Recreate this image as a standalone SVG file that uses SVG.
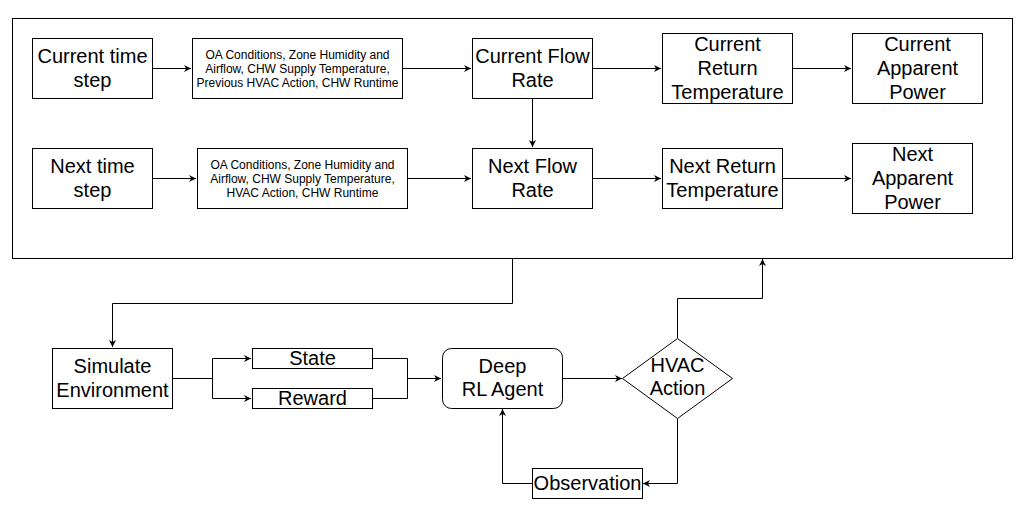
<svg xmlns="http://www.w3.org/2000/svg" width="1030" height="512" viewBox="0 0 1030 512">
<style>
.b{fill:#fff;stroke:#000;stroke-width:1}
.t{font-family:"Liberation Sans",Arial,sans-serif;font-size:20px;fill:#000;text-anchor:middle}
.s{font-family:"Liberation Sans",Arial,sans-serif;font-size:12px;fill:#000;text-anchor:middle}
.c{fill:none;stroke:#000;stroke-width:1}
</style>
<defs>
<marker id="a" viewBox="0 0 10 10" refX="10" refY="5" markerWidth="7" markerHeight="7" markerUnits="userSpaceOnUse" orient="auto">
<path d="M0,0 L10,5 L0,10 L3,5 Z" fill="#000"/>
</marker>
</defs>
<rect width="1030" height="512" fill="#fff"/>
<g id="container"><rect class="b" x="12.5" y="18.5" width="1000" height="240"/></g>
<g id="connectors">
<path class="c" d="M153 68.5H191" marker-end="url(#a)"/>
<path class="c" d="M402 68.5H471" marker-end="url(#a)"/>
<path class="c" d="M592 68.5H661" marker-end="url(#a)"/>
<path class="c" d="M793 68.5H851" marker-end="url(#a)"/>
<path class="c" d="M532.5 98V147" marker-end="url(#a)"/>
<path class="c" d="M153 178.5H196" marker-end="url(#a)"/>
<path class="c" d="M407 178.5H471" marker-end="url(#a)"/>
<path class="c" d="M592 178.5H661" marker-end="url(#a)"/>
<path class="c" d="M783 178.5H851" marker-end="url(#a)"/>
<path class="c" d="M512.5 258V303.5H112.5V347" marker-end="url(#a)"/>
<path class="c" d="M173 378.5H212.5V358.5H251" marker-end="url(#a)"/>
<path class="c" d="M212.5 378.5V398.5H251" marker-end="url(#a)"/>
<path class="c" d="M372 358.5H407.5V398.5H372"/>
<path class="c" d="M407.5 378.5H441" marker-end="url(#a)"/>
<path class="c" d="M562 378.5H622" marker-end="url(#a)"/>
<path class="c" d="M677.5 338V298.5H762.5V259" marker-end="url(#a)"/>
<path class="c" d="M677.5 418V483.5H643" marker-end="url(#a)"/>
<path class="c" d="M532 483.5H502.5V409" marker-end="url(#a)"/>
</g>
<g id="current-time-step"><rect class="b" x="32.5" y="38.5" width="120" height="60"/><text class="t" x="92.5" y="63">Current time</text><text class="t" x="92.5" y="87">step</text></g>
<g id="oa-current"><rect class="b" x="192.5" y="38.5" width="210" height="60"/><text class="s" x="297.5" y="58.5">OA Conditions, Zone Humidity and</text><text class="s" x="297.5" y="72.5">Airflow, CHW Supply Temperature,</text><text class="s" x="297.5" y="86.5">Previous HVAC Action, CHW Runtime</text></g>
<g id="current-flow-rate"><rect class="b" x="472.5" y="38.5" width="120" height="60"/><text class="t" x="532.5" y="63">Current Flow</text><text class="t" x="532.5" y="87">Rate</text></g>
<g id="current-return-temperature"><rect class="b" x="662.5" y="33.5" width="130" height="70"/><text class="t" x="727.5" y="51">Current</text><text class="t" x="727.5" y="75">Return</text><text class="t" x="727.5" y="99">Temperature</text></g>
<g id="current-apparent-power"><rect class="b" x="852.5" y="33.5" width="130" height="70"/><text class="t" x="917.5" y="51">Current</text><text class="t" x="917.5" y="75">Apparent</text><text class="t" x="917.5" y="99">Power</text></g>
<g id="next-time-step"><rect class="b" x="32.5" y="148.5" width="120" height="60"/><text class="t" x="92.5" y="173">Next time</text><text class="t" x="92.5" y="197">step</text></g>
<g id="oa-next"><rect class="b" x="197.5" y="148.5" width="210" height="60"/><text class="s" x="302.5" y="168.5">OA Conditions, Zone Humidity and</text><text class="s" x="302.5" y="182.5">Airflow, CHW Supply Temperature,</text><text class="s" x="302.5" y="196.5">HVAC Action, CHW Runtime</text></g>
<g id="next-flow-rate"><rect class="b" x="472.5" y="148.5" width="120" height="60"/><text class="t" x="532.5" y="173">Next Flow</text><text class="t" x="532.5" y="197">Rate</text></g>
<g id="next-return-temperature"><rect class="b" x="662.5" y="148.5" width="120" height="60"/><text class="t" x="722.5" y="173">Next Return</text><text class="t" x="722.5" y="197">Temperature</text></g>
<g id="next-apparent-power"><rect class="b" x="852.5" y="143.5" width="120" height="70"/><text class="t" x="912.5" y="161">Next</text><text class="t" x="912.5" y="185">Apparent</text><text class="t" x="912.5" y="209">Power</text></g>
<g id="simulate-environment"><rect class="b" x="52.5" y="348.5" width="120" height="60"/><text class="t" x="112.5" y="373">Simulate</text><text class="t" x="112.5" y="397">Environment</text></g>
<g id="state"><rect class="b" x="252.5" y="348.5" width="120" height="20"/><text class="t" x="312.5" y="365">State</text></g>
<g id="reward"><rect class="b" x="252.5" y="388.5" width="120" height="20"/><text class="t" x="312.5" y="405">Reward</text></g>
<g id="deep-rl-agent"><rect class="b" x="442.5" y="348.5" width="120" height="60" rx="9"/><text class="t" x="502.5" y="373">Deep</text><text class="t" x="502.5" y="396">RL Agent</text></g>
<g id="hvac-action"><path class="b" d="M622.5 378.5L677.5 338.5L732.5 378.5L677.5 418.5Z"/><text class="t" x="677.5" y="372">HVAC</text><text class="t" x="677.5" y="395">Action</text></g>
<g id="observation"><rect class="b" x="532.5" y="468.5" width="110" height="30"/><text class="t" x="587.5" y="490">Observation</text></g>
</svg>
